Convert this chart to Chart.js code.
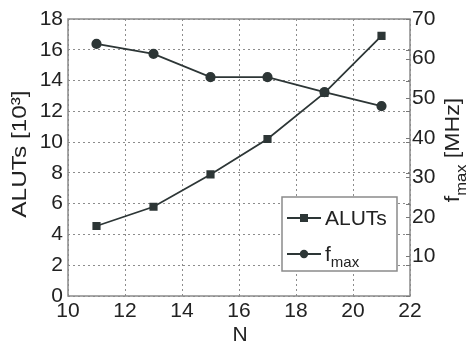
<!DOCTYPE html>
<html>
<head>
<meta charset="utf-8">
<script src="https://cdn.jsdelivr.net/npm/chart.js@4.4.0/dist/chart.umd.min.js"></script>
<style>
  html, body { margin: 0; padding: 0; background: #fff; }
  #wrap { width: 471px; height: 344px; }
</style>
</head>
<body>
<div id="wrap"><canvas id="myChart" width="471" height="344"></canvas></div>
<script>
// data
const nValues = [11, 13, 15, 17, 19, 21];
const alutValues = [4.55, 5.8, 7.9, 10.2, 13.2, 16.9];   // [10^3]
const fmaxValues = [63.7, 61.2, 55.3, 55.3, 51.5, 48.0]; // MHz
const xTicks = [10, 12, 14, 16, 18, 20, 22];
const leftTicks = [0, 2, 4, 6, 8, 10, 12, 14, 16, 18];
const rightTicks = [10, 20, 30, 40, 50, 60, 70];

const lineColor = "#2d3636";
const textColor = "#222";
const fontFamily = "'Liberation Sans', Arial, sans-serif";

const toPoints = (xs, ys) => xs.map((x, i) => ({ x: x, y: ys[i] }));

// frame, inward ticks, axis titles and legend
const decorations = {
  id: "decorations",
  afterDraw(chart) {
    const ctx = chart.ctx;
    const area = chart.chartArea;
    const yL = chart.scales.y;
    const yR = chart.scales.y2;
    ctx.save();

    // box around the plot
    ctx.strokeStyle = "#8a8a8a";
    ctx.lineWidth = 1.5;
    ctx.strokeRect(area.left, area.top, area.right - area.left, area.bottom - area.top);

    // small inward ticks on the right side
    ctx.lineWidth = 1;
    ctx.strokeStyle = "#777";
    leftTicks.concat([]).forEach(v => {
      const py = Math.round(yL.getPixelForValue(v)) + 0.5;
      ctx.beginPath(); ctx.moveTo(area.right - 4, py); ctx.lineTo(area.right, py); ctx.stroke();
    });
    rightTicks.forEach(v => {
      const py = Math.round(yR.getPixelForValue(v)) + 0.5;
      ctx.beginPath(); ctx.moveTo(area.right - 4, py); ctx.lineTo(area.right, py); ctx.stroke();
    });

    ctx.fillStyle = textColor;
    ctx.textBaseline = "middle";

    // left title (stretched a bit, like the original)
    ctx.save();
    ctx.translate(20, 154);
    ctx.rotate(-Math.PI / 2);
    ctx.scale(1.16, 1);
    ctx.font = "21px " + fontFamily;
    ctx.textAlign = "center";
    ctx.fillText("ALUTs [10³]", 0, 0);
    ctx.restore();

    // right title with subscript
    ctx.save();
    ctx.translate(453, 150);
    ctx.rotate(-Math.PI / 2);
    ctx.scale(1.1, 1);
    ctx.textAlign = "left";
    ctx.font = "21px " + fontFamily;
    const wF = ctx.measureText("f").width;
    const wRest = ctx.measureText(" [MHz]").width;
    ctx.font = "15px " + fontFamily;
    const wSub = ctx.measureText("max").width;
    const x0 = -(wF + wSub + wRest) / 2;
    ctx.font = "21px " + fontFamily;
    ctx.fillText("f", x0, 0);
    ctx.font = "15px " + fontFamily;
    ctx.fillText("max", x0 + wF, 9);
    ctx.font = "21px " + fontFamily;
    ctx.fillText(" [MHz]", x0 + wF + wSub, 0);
    ctx.restore();

    // x title
    ctx.font = "21px " + fontFamily;
    ctx.textAlign = "center";
    ctx.fillText("N", (area.left + area.right) / 2 + 1, 335);

    // legend
    const lx = 282, ly = 197, lw = 115, lh = 74;
    ctx.fillStyle = "#fff";
    ctx.fillRect(lx, ly, lw, lh);
    ctx.strokeStyle = "#8a8a8a";
    ctx.lineWidth = 1.5;
    ctx.strokeRect(lx, ly, lw, lh);
    const rows = [
      { y: 218, marker: "square", label: "ALUTs" },
      { y: 254, marker: "circle", label: "f" }
    ];
    rows.forEach(r => {
      ctx.strokeStyle = lineColor;
      ctx.lineWidth = 1.8;
      ctx.beginPath(); ctx.moveTo(287, r.y); ctx.lineTo(321, r.y); ctx.stroke();
      ctx.fillStyle = lineColor;
      if (r.marker === "square") {
        ctx.fillRect(300, r.y - 4, 8, 8);
      } else {
        ctx.beginPath(); ctx.arc(304, r.y, 4.2, 0, Math.PI * 2); ctx.fill();
      }
      ctx.fillStyle = textColor;
      ctx.textAlign = "left";
      ctx.font = "21px " + fontFamily;
      ctx.fillText(r.label, 325, r.y + 1);
      if (r.marker === "circle") {
        const w = ctx.measureText("f").width;
        ctx.font = "15px " + fontFamily;
        ctx.fillText("max", 325 + w, r.y + 9);
      }
    });
    ctx.restore();
  }
};

const graphData = {
  datasets: [
    {
      label: "ALUTs",
      data: toPoints(nValues, alutValues),
      yAxisID: "y",
      borderColor: lineColor,
      backgroundColor: lineColor,
      borderWidth: 1.8,
      pointStyle: "rect",
      pointRadius: 4.5,
      pointHoverRadius: 4.5,
      fill: false,
      tension: 0,
    },
    {
      label: "fmax",
      data: toPoints(nValues, fmaxValues),
      yAxisID: "y2",
      borderColor: lineColor,
      backgroundColor: lineColor,
      borderWidth: 1.8,
      pointStyle: "circle",
      pointRadius: 4.2,
      pointHoverRadius: 4.2,
      fill: false,
      tension: 0,
    },
  ],
};

const gridDash = {
  display: true,
  color: "#8c8c8c",
  lineWidth: 1,
  drawTicks: false,
};

const tickFont = { size: 21, family: fontFamily };

const graphOptions = {
  responsive: false,
  animation: false,
  layout: { padding: { top: 19, left: 0, right: 0, bottom: 0 } },
  plugins: { legend: { display: false }, tooltip: { enabled: false } },
  scales: {
    x: {
      type: "linear",
      position: "bottom",
      min: 10,
      max: 22,
      afterBuildTicks: s => { s.ticks = xTicks.map(v => ({ value: v })); },
      afterFit: s => { s.height = 48; },
      grid: gridDash,
      border: { display: false, dash: [2, 3] },
      ticks: { color: textColor, font: tickFont, padding: 3, maxRotation: 0 },
    },
    y: {
      type: "linear",
      position: "left",
      min: 0,
      max: 18,
      afterBuildTicks: s => { s.ticks = leftTicks.map(v => ({ value: v })); },
      afterFit: s => { s.width = 68; },
      grid: gridDash,
      border: { display: false, dash: [2, 3] },
      ticks: { color: textColor, font: tickFont, padding: 5 },
    },
    y2: {
      type: "linear",
      position: "right",
      min: 0,
      max: 70,
      afterBuildTicks: s => { s.ticks = rightTicks.map(v => ({ value: v })); },
      afterFit: s => { s.width = 61; },
      grid: { display: false, drawTicks: false },
      border: { display: false },
      ticks: { color: textColor, font: tickFont, padding: 2 },
    },
  },
};

const graph = new Chart(document.getElementById("myChart").getContext("2d"), {
  type: "line",
  data: graphData,
  options: graphOptions,
  plugins: [decorations],
});
</script>
</body>
</html>
